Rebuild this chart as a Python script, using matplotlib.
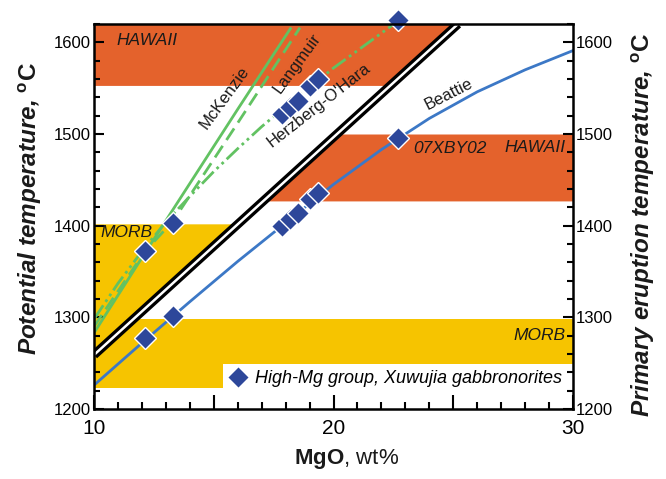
import numpy as np
import matplotlib
matplotlib.use('Agg')
import matplotlib.pyplot as plt
from matplotlib.lines import Line2D
from matplotlib.patches import Rectangle
from matplotlib.ticker import MultipleLocator, FixedLocator

plt.rcParams['font.family'] = ['Liberation Sans', 'DejaVu Sans']
plt.rcParams['mathtext.fontset'] = 'custom'
plt.rcParams['mathtext.rm'] = 'Liberation Sans'
plt.rcParams['mathtext.bf'] = 'Liberation Sans:bold'
plt.rcParams['mathtext.it'] = 'Liberation Sans:italic'

# ---------------- data ----------------
sample_mgo = [12.13, 13.30, 17.85, 18.18, 18.52, 19.02, 19.35, 22.69]
sample_tp = [1372, 1403, 1522, 1529, 1536, 1552, 1560, 1624]   # potential temperature
sample_te = [1277, 1301, 1400, 1407, 1414, 1429, 1436, 1496]   # primary eruption temperature

mckenzie_mgo = [10, 12, 14, 16, 18.2]
mckenzie_t = [1283, 1365, 1446, 1527, 1615]
langmuir_mgo = [10, 12.13, 13.3, 16, 18.6]
langmuir_t = [1290, 1372, 1405, 1512, 1616]
herzberg_mgo = [10, 11, 12, 13, 14, 15, 16, 17, 18, 19, 20, 21, 22, 23]
herzberg_t = [1298, 1337, 1372, 1404, 1432, 1459, 1484, 1508, 1530, 1551, 1572, 1591, 1610, 1629]
beattie_mgo = [10, 12, 14, 16, 18, 20, 22, 24, 26, 28, 30]
beattie_t = [1226, 1272, 1317, 1361, 1403, 1445, 1483, 1517, 1546, 1570, 1591]
boundary_mgo = [10, 25.2]
boundary_t = [1259, 1620]

hawaii_tp = [1553, 1620]
hawaii_te = [1427, 1500]
morb_tp = [1223, 1402]
morb_te = [1223, 1298]

x_major = [10, 15, 20, 25, 30]
x_labels = ['10', '', '20', '', '30']

# ---------------- style ----------------
ORANGE = '#E4622C'
YELLOW = '#F6C400'
GREEN = '#62C262'
BLUE = '#3C78C6'
DBLUE = '#2D479A'
TXT = '#1a1a1a'

fig = plt.figure(figsize=(6.66, 4.79), dpi=100)
ax = fig.add_axes([94/666, 1-409/479, (573-94)/666, (409-24)/479])
ax.set_xlim(10, 30)
ax.set_ylim(1200, 1620)

# bands
T = np.linspace(hawaii_tp[0], hawaii_tp[1], 60)
ax.fill_betweenx(T, 10, np.interp(T, boundary_t, boundary_mgo), color=ORANGE, lw=0, zorder=0)
T = np.linspace(hawaii_te[0], hawaii_te[1], 60)
ax.fill_betweenx(T, np.interp(T, boundary_t, boundary_mgo), 30, color=ORANGE, lw=0, zorder=0)
T = np.linspace(morb_tp[0], morb_tp[1], 60)
ax.fill_betweenx(T, 10, np.interp(T, boundary_t, boundary_mgo), color=YELLOW, lw=0, zorder=0)
ax.fill_between([10, 30], morb_te[0], morb_te[1], color=YELLOW, lw=0, zorder=0)

# legend background box
ax.add_patch(Rectangle((15.39, 1205), 14.61, 44, fc='white', ec='none', zorder=1))

# boundary double line
ax.plot(boundary_mgo, boundary_t, color='black', lw=6.5, solid_capstyle='butt', zorder=2)
ax.plot(boundary_mgo, boundary_t, color='white', lw=1.8, solid_capstyle='butt', zorder=2.1)

# model curves
ax.plot(mckenzie_mgo, mckenzie_t, color=GREEN, lw=2, zorder=3)
ax.plot(langmuir_mgo, langmuir_t, color=GREEN, lw=2, ls=(0, (5, 2.5)), zorder=3)
ax.plot(herzberg_mgo, herzberg_t, color=GREEN, lw=2, ls=(0, (6, 1.5, 1, 1.5, 1, 1.5)), zorder=3)
ax.plot(beattie_mgo, beattie_t, color=BLUE, lw=2, zorder=3)

# samples
ax.plot(sample_mgo, sample_tp, ls='none', marker='D', ms=11, mfc=DBLUE, mec='white', mew=1,
        zorder=5, clip_on=False)
ax.plot(sample_mgo, sample_te, ls='none', marker='D', ms=11, mfc=DBLUE, mec='white', mew=1,
        zorder=5, clip_on=False)

# texts
it = dict(style='italic', fontsize=12.5, color=TXT, ha='center', va='center', zorder=6)
ax.text(12.21, 1602, 'HAWAII', **it)
ax.text(11.34, 1393, 'MORB', **it)
ax.text(24.86, 1484.5, '07XBY02', **it)
ax.text(28.41, 1485.6, 'HAWAII', **it)
ax.text(28.62, 1280.7, 'MORB', **it)
lt = dict(fontsize=12, color=TXT, ha='center', va='center', zorder=6, rotation_mode='anchor')
ax.text(15.45, 1540, 'McKenzie', rotation=54, **lt)
ax.text(18.50, 1577, 'Langmuir', rotation=54, **lt)
ax.text(19.39, 1531, "Herzberg-O'Hara", rotation=38, **lt)
ax.text(24.82, 1543, 'Beattie', rotation=27, **lt)

# legend
h = Line2D([], [], marker='D', ls='none', ms=11.5, mfc=DBLUE, mec='white', mew=1)
ax.legend([h], ['High-Mg group, Xuwujia gabbronorites'], loc='center left',
          bbox_to_anchor=(0.278, 0.078), frameon=False,
          prop=dict(style='italic', size=13), handletextpad=0.35, borderpad=0,
          borderaxespad=0, handlelength=1.2)

# axes / ticks
for s in ax.spines.values():
    s.set_linewidth(1.8)
    s.set_zorder(7)
ax.xaxis.set_major_locator(FixedLocator(x_major))
ax.set_xticklabels(x_labels)
ax.xaxis.set_minor_locator(MultipleLocator(1))
ax.yaxis.set_major_locator(MultipleLocator(100))
ax.yaxis.set_minor_locator(MultipleLocator(20))
ax.tick_params(which='both', direction='in', top=False, colors='black', width=1.5)
ax.tick_params(axis='y', which='both', left=True, right=True, labelleft=True, labelright=True)
ax.tick_params(axis='x', which='major', length=10, labelsize=15, pad=7)
ax.tick_params(axis='x', which='minor', length=5)
ax.tick_params(axis='y', which='major', length=7.5, labelsize=12, pad=2)
ax.tick_params(axis='y', which='minor', length=4.3)

fig.text(30/666, 1-209/479, r'Potential temperature, $\mathbf{^{o}C}$', rotation=90,
         ha='center', va='center', fontsize=17.5, fontweight='bold', style='italic', color=TXT)
fig.text(643/666, 1-225/479, r'Primary eruption temperature, $\mathbf{^{o}C}$', rotation=90,
         ha='center', va='center', fontsize=17.5, fontweight='bold', style='italic', color=TXT)
fig.text(347/666, 1-459/479, r'$\mathbf{MgO}$, wt%', ha='center', va='center',
         fontsize=16, color=TXT)

fig.savefig('out.png', dpi=100)
